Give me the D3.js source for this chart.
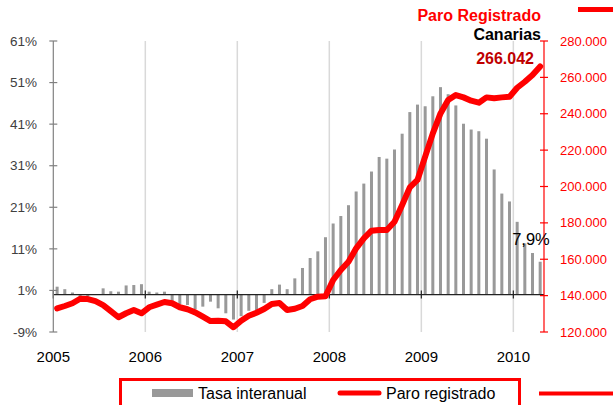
<!DOCTYPE html>
<html><head><meta charset="utf-8">
<script src="https://cdn.jsdelivr.net/npm/d3@7"></script>
<style>
html,body{margin:0;padding:0;background:#fff;}
svg{display:block;font-family:"Liberation Sans",Arial,sans-serif;}
</style></head>
<body><svg id="c" width="613" height="405"></svg>
<script>
const months = [
 "2005-01","2005-02","2005-03","2005-04","2005-05","2005-06","2005-07","2005-08","2005-09","2005-10","2005-11","2005-12",
 "2006-01","2006-02","2006-03","2006-04","2006-05","2006-06","2006-07","2006-08","2006-09","2006-10","2006-11","2006-12",
 "2007-01","2007-02","2007-03","2007-04","2007-05","2007-06","2007-07","2007-08","2007-09","2007-10","2007-11","2007-12",
 "2008-01","2008-02","2008-03","2008-04","2008-05","2008-06","2008-07","2008-08","2008-09","2008-10","2008-11","2008-12",
 "2009-01","2009-02","2009-03","2009-04","2009-05","2009-06","2009-07","2009-08","2009-09","2009-10","2009-11","2009-12",
 "2010-01","2010-02","2010-03","2010-04"];
// Tasa interanual (%)
const tasa = [
 1.9,1.3,0.5,-0.5,-0.5,0.1,1.5,0.8,0.7,2.2,2.3,2.5,
 0.7,0.5,0.7,-1.5,-2.3,-2.5,-3.5,-2.9,-1.7,-3.3,-4.5,-6.0,
 -5.2,-3.9,-3.9,-2.0,1.3,2.4,1.3,3.9,6.4,8.8,10.4,13.8,
 17.1,18.9,21.5,24.8,26.7,29.6,33.1,32.7,34.9,38.7,43.9,45.7,
 45.3,47.7,49.9,48.2,45.5,41.1,39.7,39.3,37.5,30.1,24.3,22.4,
 17.5,12.3,10.0,7.9];
// Paro registrado
const paro = [
 133000,134300,135800,138300,138100,137000,134800,131500,128100,130300,132100,130300,
 133600,135000,136500,135800,133600,132500,130800,128400,126000,126200,125900,122600,
 126200,128900,130600,132600,135400,135900,132100,132800,134300,138000,139400,139600,
 148600,154100,158600,166000,171500,175700,176100,176100,180600,189800,199500,203600,
 216400,229200,240200,247500,250300,249000,247200,246100,249000,248500,249000,249300,
 254300,257600,261300,266042];
const years = ["2005","2006","2007","2008","2009","2010"];
const leftTicks = [-9,1,11,21,31,41,51,61];
const rightTicks = [120000,140000,160000,180000,200000,220000,240000,260000,280000];
const seriesNames = ["Tasa interanual","Paro registrado"];

const svg = d3.select("#c");
const X0 = 53.3, X1 = 544, Y0 = 41, Y1 = 332;
const x = d3.scaleBand().domain(months).range([X0, X1]).padding(0);
const yL = d3.scaleLinear().domain([-9,61]).range([Y1,Y0]);
const yR = d3.scaleLinear().domain([120000,280000]).range([Y1,Y0]);
const bw = x.bandwidth();
const fmtR = d3.formatLocale({decimal:",",thousands:".",grouping:[3],currency:["","€"]}).format(",.0f");

// year gridlines
svg.append("g").selectAll("line").data(years.slice(1)).join("line")
  .attr("x1", d=>x(d+"-01")).attr("x2", d=>x(d+"-01"))
  .attr("y1", Y0).attr("y2", Y1)
  .attr("stroke","#d9d9d9").attr("stroke-width",1.5);

// bars
svg.append("g").selectAll("rect").data(tasa).join("rect")
  .attr("x",(d,i)=>x(months[i])+bw/2-1.5)
  .attr("width",3)
  .attr("y",d=>Math.min(yL(d),yL(0)))
  .attr("height",d=>Math.abs(yL(d)-yL(0)))
  .attr("fill","#999999");

// category axis line at 0
svg.append("line").attr("x1",X0).attr("x2",X1).attr("y1",yL(0)).attr("y2",yL(0))
  .attr("stroke","#222").attr("stroke-width",1.2);
svg.append("g").selectAll("line").data(years).join("line")
  .attr("x1", d=>x(d+"-01")).attr("x2", d=>x(d+"-01"))
  .attr("y1", yL(0)-4).attr("y2", yL(0)+4)
  .attr("stroke","#222").attr("stroke-width",1.2);

// left axis
const gL = svg.append("g");
gL.append("line").attr("x1",X0).attr("x2",X0).attr("y1",Y0).attr("y2",Y1).attr("stroke","#808080").attr("stroke-width",1.2);
gL.selectAll("line.t").data(leftTicks).join("line").attr("class","t")
  .attr("x1",X0-4).attr("x2",X0+4).attr("y1",d=>yL(d)).attr("y2",d=>yL(d))
  .attr("stroke","#808080").attr("stroke-width",1.2);
gL.selectAll("text").data(leftTicks).join("text")
  .attr("x",37).attr("y",d=>yL(d)).attr("dy","0.35em").attr("text-anchor","end")
  .attr("font-size","13.5px").attr("fill","#404040").text(d=>d+"%");

// right axis
const gR = svg.append("g");
gR.append("line").attr("x1",X1).attr("x2",X1).attr("y1",Y0).attr("y2",Y1).attr("stroke","#ff0000").attr("stroke-width",1.2);
gR.selectAll("line.t").data(rightTicks).join("line").attr("class","t")
  .attr("x1",X1-4).attr("x2",X1+4).attr("y1",d=>yR(d)).attr("y2",d=>yR(d))
  .attr("stroke","#ff0000").attr("stroke-width",1.2);
gR.selectAll("text").data(rightTicks).join("text")
  .attr("x",560).attr("y",d=>yR(d)).attr("dy","0.35em").attr("text-anchor","start")
  .attr("font-size","13px").attr("fill","#ff0000").text(d=>fmtR(d));

// year labels
svg.append("g").selectAll("text").data(years).join("text")
  .attr("x",d=>x(d+"-01")).attr("y",362).attr("text-anchor","middle")
  .attr("font-size","15px").attr("fill","#000").text(d=>d);

// line
const line = d3.line().x((d,i)=>x(months[i])+bw/2).y(d=>yR(d)).curve(d3.curveLinear);
svg.append("path").datum(paro).attr("d",line)
  .attr("fill","none").attr("stroke","#ff0000").attr("stroke-width",6)
  .attr("stroke-linejoin","round").attr("stroke-linecap","round");

// last value label
svg.append("text").attr("x",x(months[months.length-1])+bw/2-28).attr("y",yL(tasa[tasa.length-1])-17)
  .attr("font-size","16.5px").attr("fill","#000").text(d3.format(".1f")(tasa[tasa.length-1]).replace(".",",")+"%");

// titles
svg.append("text").attr("x",541).attr("y",21).attr("text-anchor","end").attr("font-size","16px").attr("font-weight","bold").attr("fill","#ff0000").text("Paro Registrado");
svg.append("text").attr("x",541).attr("y",40).attr("text-anchor","end").attr("font-size","16px").attr("font-weight","bold").attr("fill","#000").text("Canarias");
svg.append("text").attr("x",534).attr("y",64).attr("text-anchor","end").attr("font-size","16px").attr("font-weight","bold").attr("fill","#c00000").text(fmtR(paro[paro.length-1]));
svg.append("line").attr("x1",578).attr("x2",613).attr("y1",9.5).attr("y2",9.5).attr("stroke","#ff0000").attr("stroke-width",5);

// legend
const lg = svg.append("g");
lg.append("rect").attr("x",120.5).attr("y",379.5).attr("width",399).attr("height",40)
  .attr("fill","#fff").attr("stroke","#ff0000").attr("stroke-width",3);
lg.append("rect").attr("x",152).attr("y",389).attr("width",41).attr("height",8).attr("fill","#999999");
lg.append("text").attr("x",198).attr("y",399).attr("font-size","16px").attr("fill","#000").text(seriesNames[0]);
lg.append("line").attr("x1",340).attr("x2",379).attr("y1",393).attr("y2",393).attr("stroke","#ff0000").attr("stroke-width",5).attr("stroke-linecap","round");
lg.append("text").attr("x",386).attr("y",399).attr("font-size","16px").attr("fill","#000").text(seriesNames[1]);
svg.append("line").attr("x1",539).attr("x2",613).attr("y1",393.5).attr("y2",393.5).attr("stroke","#ff0000").attr("stroke-width",4);
</script></body></html>
